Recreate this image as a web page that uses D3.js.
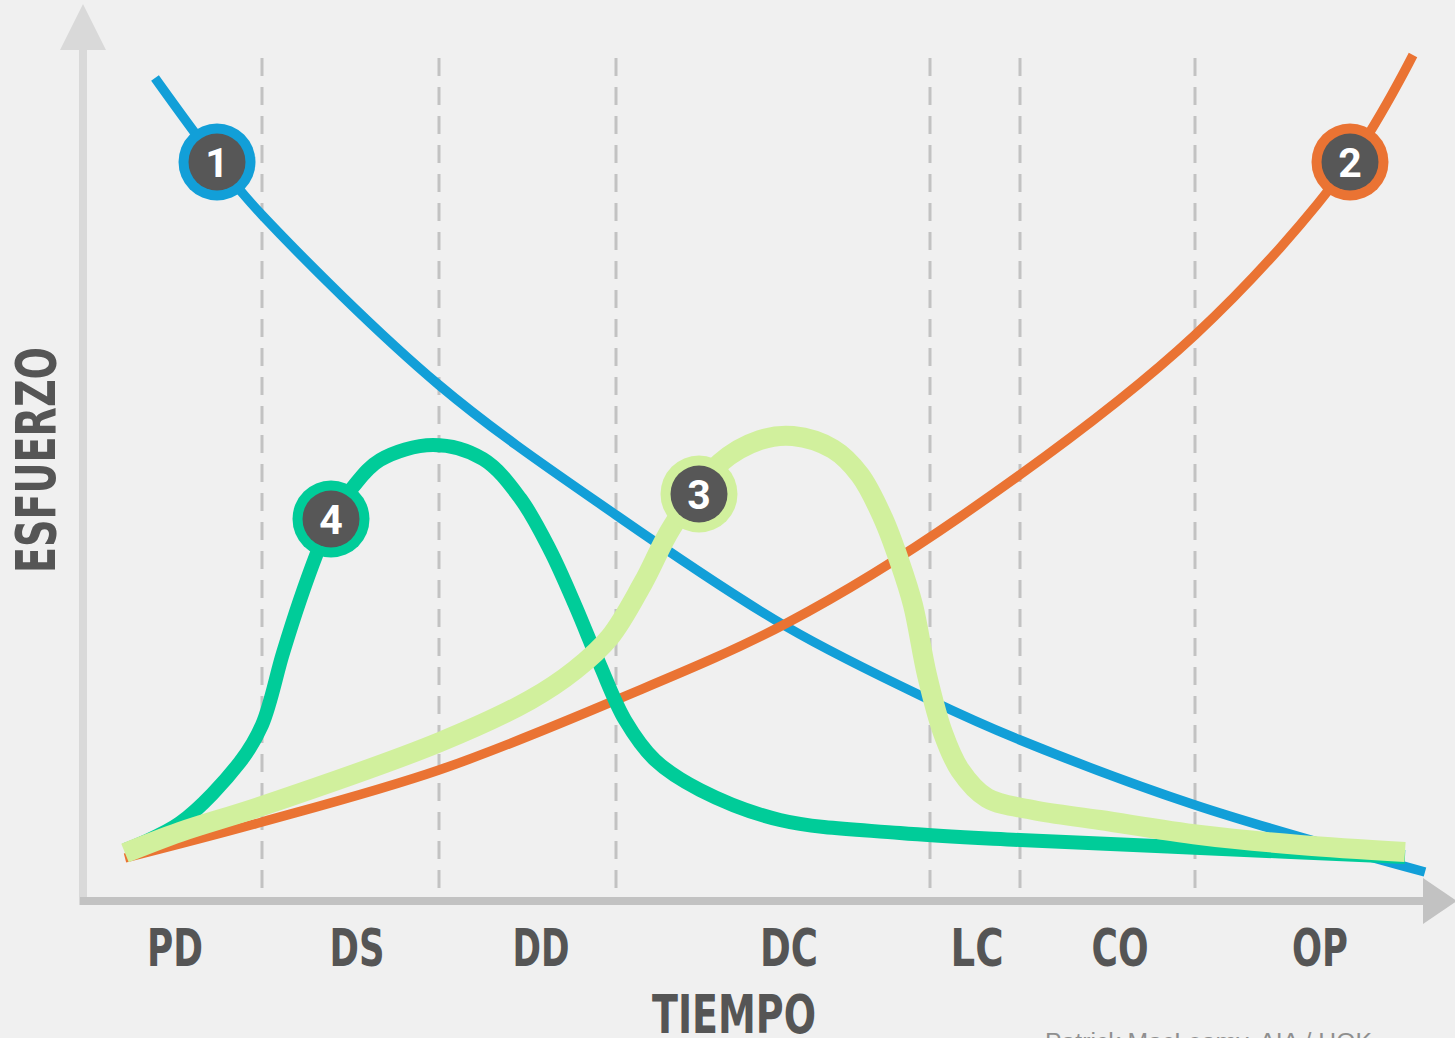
<!DOCTYPE html>
<html>
<head>
<meta charset="utf-8">
<script src="https://cdn.jsdelivr.net/npm/d3@7"></script>
<style>
html,body{margin:0;padding:0;background:#f0f0f0;overflow:hidden;}
svg{display:block;}
</style>
</head>
<body>
<svg id="chart" width="1455" height="1038"></svg>
<script>
// ---- data (arbitrary units: time 0..1340, effort 0..900) ----
const categories = ["PD","DS","DD","DC","LC","CO","OP"];
const categoryPos = [92, 274, 458, 706, 894, 1037, 1237];
const categoryWidth = [56, 55, 57, 58, 53, 57, 56];
const phaseBounds = [179, 356, 533, 847, 937, 1112];

// 1 - ability to impact cost and functional capabilities (blue)
const time1   = [72, 134, 179, 356, 533, 704, 847, 937, 1112, 1342];
const effort1 = [819, 735, 682, 512, 382, 270, 197, 157, 92, 25];
// 2 - cost of design changes (orange)
const time2   = [42, 179, 356, 533, 704, 877, 1112, 1267, 1330];
const effort2 = [39, 75, 127, 197, 274, 380, 562, 735, 842];
// 3 - traditional design process (light green)
const time3   = [42, 97, 179, 357, 447, 492, 527, 560, 589, 637, 677, 710, 750, 777, 800, 817, 830, 844, 860, 877, 904, 950, 1017, 1117, 1217, 1322];
const effort3 = [44, 65, 91, 155, 197, 227, 260, 314, 370, 434, 457, 461, 448, 422, 379, 334, 292, 222, 164, 127, 99, 87, 77, 62, 52, 45];
// 4 - preferred design process (teal)
const time4   = [42, 97, 157, 179, 200, 217, 234, 248, 270, 297, 350, 400, 437, 467, 492, 517, 542, 572, 617, 697, 817, 937, 1117, 1322];
const effort4 = [47, 74, 135, 172, 244, 297, 344, 378, 410, 437, 452, 438, 399, 347, 292, 232, 177, 137, 107, 77, 64, 57, 49, 40];

const markerLabels = ["1", "2", "3", "4"];
const markerTime   = [134, 1267, 616, 248];
const markerEffort = [735, 735, 403, 378];

const xTitle = "TIEMPO";
const yTitle = "ESFUERZO";
const credit = "Patrick MacLeamy, AIA / HOK";

// ---- drawing ----
const svg = d3.select("#chart");
const x = d3.scaleLinear().domain([0, 1340]).range([83, 1423]);
const y = d3.scaleLinear().domain([0, 900]).range([897, -3]);

const colors = ["#129fd8", "#ea7333", "#d1f09d", "#00cc99"];
const widths = [9.5, 9.5, 20, 14];
const seriesT = [time1, time2, time3, time4];
const seriesE = [effort1, effort2, effort3, effort4];

svg.append("rect").attr("width", 1455).attr("height", 1038).attr("fill", "#f0f0f0");

// dashed phase lines
svg.append("g").selectAll("line").data(phaseBounds).join("line")
  .attr("x1", d => x(d)).attr("x2", d => x(d))
  .attr("y1", y(839)).attr("y2", y(0))
  .attr("stroke", "#c2c2c2").attr("stroke-width", 3)
  .attr("stroke-dasharray", "18,11");

// axes
svg.append("line")
  .attr("x1", x(0)).attr("x2", x(0)).attr("y1", y(-8)).attr("y2", y(850))
  .attr("stroke", "#d9d9d9").attr("stroke-width", 8);
svg.append("path")
  .attr("d", `M${x(0)},${y(893)} L${x(0)-23},${y(847)} L${x(0)+23},${y(847)} Z`)
  .attr("fill", "#d9d9d9");
svg.append("line")
  .attr("x1", x(-3)).attr("x2", x(1342)).attr("y1", y(-4)).attr("y2", y(-4))
  .attr("stroke", "#c2c2c2").attr("stroke-width", 8);
svg.append("path")
  .attr("d", `M${x(1374)},${y(-4)} L${x(1340)},${y(-4)-23} L${x(1340)},${y(-4)+23} Z`)
  .attr("fill", "#c2c2c2");

// curves
const line = d3.line().x(d => x(d[0])).y(d => y(d[1])).curve(d3.curveCatmullRom.alpha(0.5));
const order = [0, 1, 3, 2];
order.forEach(i => {
  const pts = seriesT[i].map((t, k) => [t, seriesE[i][k]]);
  svg.append("path").datum(pts)
    .attr("d", line)
    .attr("fill", "none")
    .attr("stroke", colors[i])
    .attr("stroke-width", widths[i])
    .attr("stroke-linecap", "butt")
    .attr("stroke-linejoin", "round");
});

// markers
const mk = svg.append("g").selectAll("g").data(markerLabels).join("g")
  .attr("transform", (d, i) => `translate(${x(markerTime[i])},${y(markerEffort[i])})`);
mk.append("circle").attr("r", 38.5).attr("fill", (d, i) => colors[i]);
mk.append("circle").attr("r", 28.5).attr("fill", "#575757");
mk.append("text").text(d => d)
  .attr("text-anchor", "middle").attr("y", 15)
  .attr("font-family", "Roboto, 'DejaVu Sans', sans-serif")
  .attr("font-weight", "bold").attr("font-size", 41)
  .attr("fill", "#ffffff");

// category labels
svg.append("g").selectAll("text").data(categories).join("text")
  .text(d => d)
  .attr("x", (d, i) => x(categoryPos[i]))
  .attr("y", 966)
  .attr("text-anchor", "middle")
  .attr("font-family", "'DejaVu Sans Condensed', 'DejaVu Sans', sans-serif")
  .attr("font-weight", "bold").attr("font-size", 52)
  .attr("textLength", (d, i) => categoryWidth[i])
  .attr("lengthAdjust", "spacingAndGlyphs")
  .attr("fill", "#555555");

// axis titles
svg.append("text").text(xTitle)
  .attr("x", 734).attr("y", 1033)
  .attr("text-anchor", "middle")
  .attr("font-family", "'DejaVu Sans Condensed', 'DejaVu Sans', sans-serif")
  .attr("font-weight", "bold").attr("font-size", 54)
  .attr("textLength", 164).attr("lengthAdjust", "spacingAndGlyphs")
  .attr("fill", "#555555");

svg.append("text").text(yTitle)
  .attr("transform", "translate(55,460) rotate(-90)")
  .attr("text-anchor", "middle")
  .attr("font-family", "'DejaVu Sans Condensed', 'DejaVu Sans', sans-serif")
  .attr("font-weight", "bold").attr("font-size", 55)
  .attr("textLength", 226).attr("lengthAdjust", "spacingAndGlyphs")
  .attr("fill", "#555555");

// credit (partly cut off at the bottom edge, as in the reference)
svg.append("text").text(credit)
  .attr("x", 1045).attr("y", 1050)
  .attr("font-family", "'Liberation Sans', Arial, sans-serif")
  .attr("font-size", 23)
  .attr("textLength", 327).attr("lengthAdjust", "spacingAndGlyphs")
  .attr("fill", "#8f8f8f");
</script>
</body>
</html>
